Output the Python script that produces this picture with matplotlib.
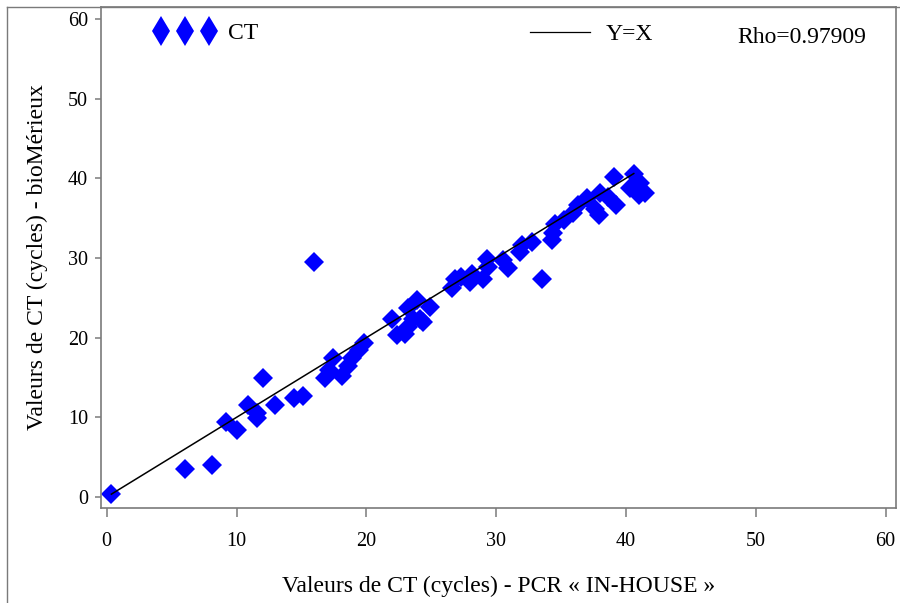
import numpy as np
import matplotlib
matplotlib.use("Agg")
import matplotlib.pyplot as plt
from matplotlib.lines import Line2D

# ---- CT values (x = PCR in-house, y = bioMerieux) ----
ct_pcr = [0.36, 6.0, 8.15, 9.2, 10.0, 10.9, 11.6, 11.6, 12.05, 12.95,
          14.45, 15.1, 16.0, 16.8, 17.1, 17.45, 18.1, 18.6, 18.9, 19.4,
          19.8, 21.95, 22.35, 23.0, 23.2, 23.2, 23.6, 23.9, 24.1, 24.4,
          24.9, 26.6, 26.8, 27.3, 28.0, 28.1, 29.0, 29.3, 29.4, 30.55,
          30.9, 31.8, 32.0, 32.75, 33.5, 34.3, 34.4, 34.5, 35.2, 35.9,
          36.3, 37.0, 37.6, 37.9, 38.0, 38.6, 39.2, 39.05, 40.3, 40.6,
          41.1, 41.0, 41.5]
ct_bio = [0.34, 3.5, 4.0, 9.45, 8.4, 11.5, 10.5, 9.9, 14.9, 11.5,
          12.4, 12.7, 29.5, 15.0, 15.9, 17.5, 15.2, 16.5, 17.4, 18.5,
          19.3, 22.3, 20.3, 20.5, 23.7, 21.4, 22.4, 24.7, 22.4, 22.0,
          23.9, 26.2, 27.4, 27.6, 27.0, 28.0, 27.4, 29.9, 28.9, 29.7,
          28.7, 30.8, 31.6, 32.0, 27.4, 32.2, 33.1, 34.3, 34.8, 35.6,
          36.6, 37.5, 36.1, 35.4, 38.1, 37.7, 36.6, 40.2, 38.75, 40.6,
          39.4, 37.9, 38.1]
rho = 0.97909
xticks = [0, 10, 20, 30, 40, 50, 60]
yticks = [0, 10, 20, 30, 40, 50, 60]

plt.rcParams["font.family"] = ["Liberation Serif", "DejaVu Serif"]
plt.rcParams["font.size"] = 14.5
big = 17
grey = "#7a7a7a"

fig = plt.figure(figsize=(9, 6.03), dpi=100)
ax = fig.add_axes([0.1119, 0.1575, 0.8837, 0.8309])

ax.plot(ct_pcr, ct_bio, "D", color="#0000ff", markersize=10, markeredgewidth=0,
        linestyle="none")
lo, hi = min(ct_pcr), max(ct_bio)
ax.plot([lo, hi], [lo, hi], "-", color="black", lw=1.1)

ax.set_xlim(-0.46, 60.8)
ax.set_ylim(-1.38, 61.5)
ax.set_xticks(xticks)
ax.set_yticks(yticks)
ax.tick_params(axis="x", length=6.5, width=1.1, color=grey, pad=11)
ax.tick_params(axis="y", length=4.2, width=1.1, color=grey, pad=5)
for s in ax.spines.values():
    s.set_color(grey)
    s.set_linewidth(1.2)

ax.set_xlabel("Valeurs de CT (cycles) - PCR « IN-HOUSE »", fontsize=big)
ax.set_ylabel("Valeurs de CT (cycles) - bioMérieux", fontsize=big)
ax.xaxis.set_label_coords(0.5, -0.136)
ax.yaxis.set_label_coords(-0.066, 0.5)

# ---- legend row at the top of the axes ----
h_ct = Line2D([], [], marker="d", color="#0000ff", markersize=15,
              markeredgewidth=0, linestyle="none")
leg1 = ax.legend([h_ct], ["CT"], loc="center left", bbox_to_anchor=(0.067, 0.948),
                 numpoints=3, handlelength=2.63, handletextpad=0.5, frameon=False,
                 borderpad=0, borderaxespad=0, fontsize=big)
ax.add_artist(leg1)
h_line = Line2D([], [], color="black", lw=0.9)
ax.legend([h_line], ["Y=X"], loc="center left", bbox_to_anchor=(0.54, 0.946),
          handlelength=2.54, handletextpad=0.64, frameon=False, borderpad=0,
          borderaxespad=0, fontsize=big)
ax.text(0.80, 0.94, f"Rho={rho:.5f}", transform=ax.transAxes, ha="left",
        va="center", fontsize=big)

# thin outer frame on left and top of the picture
fig.add_artist(Line2D([7 / 900, 7 / 900], [0, 1 - 7 / 603], color=grey, lw=1.0,
                      transform=fig.transFigure))
fig.add_artist(Line2D([7 / 900, 1], [1 - 7 / 603, 1 - 7 / 603], color=grey, lw=1.0,
                      transform=fig.transFigure))

fig.savefig("out.png", dpi=100)
